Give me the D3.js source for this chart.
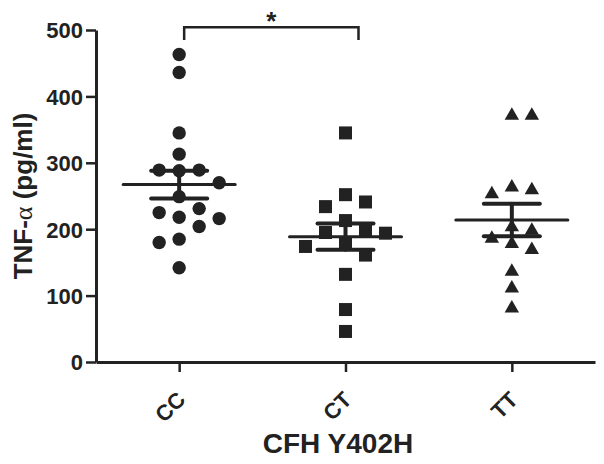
<!DOCTYPE html>
<html>
<head>
<meta charset="utf-8">
<script src="https://cdn.jsdelivr.net/npm/d3@7"></script>
<style>
  body { margin: 0; background: #fff; }
  text { font-family: "Liberation Sans", Arial, sans-serif; font-weight: bold; fill: #222; }
</style>
</head>
<body>
<div id="chart"></div>
<script>
// values
const groups = ["CC", "CT", "TT"];
const ccValues = [463, 436, 345, 313, 289, 289, 288, 270, 249, 231, 225, 218, 216, 204, 185, 180, 142];
const ctValues = [345, 252, 241, 234, 213, 198, 195, 194, 178, 174, 161, 132, 79, 46];
const ttValues = [371, 371, 263, 253, 259, 203, 186, 198, 178, 169, 136, 111, 81];
const yTicks = [0, 100, 200, 300, 400, 500];
const sigPair = ["CC", "CT"];

const width = 604, height = 464;
const ink = "#222";

const svg = d3.select("#chart").append("svg")
  .attr("width", width)
  .attr("height", height);

const x = d3.scalePoint().domain(groups).range([96, 595]).padding(0.5);
const y = d3.scaleLinear().domain([0, 500]).range([362, 30]);

const shapes = {CC: d3.symbolCircle, CT: d3.symbolSquare, TT: d3.symbolTriangle};
const sizes = {CC: 141, CT: 169, TT: 90};
const series = [
  {key: "CC", values: ccValues},
  {key: "CT", values: ctValues},
  {key: "TT", values: ttValues}
];

// simple column layout so overlapping points get spread sideways
const colGap = 20, minDist = 16;
const slots = [0, 1, -1, 2, -2, 3, -3];
function spread(values) {
  const placed = [];
  values.slice().sort((a, b) => b - a).forEach(v => {
    const py = y(v);
    const s = slots.find(k => !placed.some(p => p.slot === k && Math.abs(p.py - py) < minDist));
    placed.push({v, py, slot: s});
  });
  return placed;
}

// axes
const yAxis = svg.append("g")
  .attr("transform", "translate(96,0)")
  .call(d3.axisLeft(y).tickValues(yTicks).tickSize(10).tickSizeOuter(0).tickPadding(3));
yAxis.select(".domain").attr("stroke", ink).attr("stroke-width", 3);
yAxis.selectAll(".tick line").attr("stroke", ink).attr("stroke-width", 2.5);
yAxis.selectAll(".tick text").style("font-size", "22px").attr("dy", "0.36em");

const xAxis = svg.append("g")
  .attr("transform", "translate(0,362)")
  .call(d3.axisBottom(x).tickSize(10).tickSizeOuter(0));
xAxis.select(".domain").attr("stroke", ink).attr("stroke-width", 3);
xAxis.selectAll(".tick line").attr("stroke", ink).attr("stroke-width", 2.5);
xAxis.selectAll(".tick text")
  .style("font-size", "22px")
  .attr("y", 0).attr("dy", 0)
  .attr("text-anchor", "end")
  .attr("transform", "translate(7,39) rotate(-45)");

// points
series.forEach(s => {
  const cx = x(s.key);
  svg.append("g").selectAll("path")
    .data(spread(s.values))
    .join("path")
    .attr("d", d3.symbol().type(shapes[s.key]).size(sizes[s.key]))
    .attr("transform", d => `translate(${cx + d.slot * colGap},${d.py})`)
    .attr("fill", ink);

  // mean and SEM
  const m = d3.mean(s.values);
  const sem = d3.deviation(s.values) / Math.sqrt(s.values.length);
  const g = svg.append("g").attr("stroke", ink).attr("stroke-linecap", "round");
  g.append("line")
    .attr("x1", cx - 56).attr("x2", cx + 56)
    .attr("y1", y(m)).attr("y2", y(m))
    .attr("stroke-width", 3);
  g.append("line")
    .attr("x1", cx).attr("x2", cx)
    .attr("y1", y(m + sem)).attr("y2", y(m - sem))
    .attr("stroke-width", 4);
  [m + sem, m - sem].forEach(v => {
    g.append("line")
      .attr("x1", cx - 28).attr("x2", cx + 28)
      .attr("y1", y(v)).attr("y2", y(v))
      .attr("stroke-width", 4);
  });
});

// significance bracket
const bx1 = x(sigPair[0]) + 5, bx2 = x(sigPair[1]) + 13;
svg.append("path")
  .attr("d", `M${bx1},${y(485)}V${y(504)}H${bx2}V${y(485)}`)
  .attr("fill", "none")
  .attr("stroke", ink)
  .attr("stroke-width", 2.5);
svg.append("text")
  .attr("x", (bx1 + bx2) / 2)
  .attr("y", 30)
  .attr("text-anchor", "middle")
  .style("font-size", "26px")
  .text("*");

// axis titles
svg.append("text")
  .attr("x", 338).attr("y", 453)
  .attr("text-anchor", "middle")
  .style("font-size", "28px")
  .text("CFH Y402H");

const yTitle = svg.append("text")
  .attr("transform", "translate(32,196) rotate(-90)")
  .attr("text-anchor", "middle")
  .style("font-size", "26px");
yTitle.append("tspan").text("TNF-");
yTitle.append("tspan").style("font-weight", "normal").style("font-family", "'Liberation Serif', serif").text("α");
yTitle.append("tspan").text(" (pg/ml)");
</script>
</body>
</html>
